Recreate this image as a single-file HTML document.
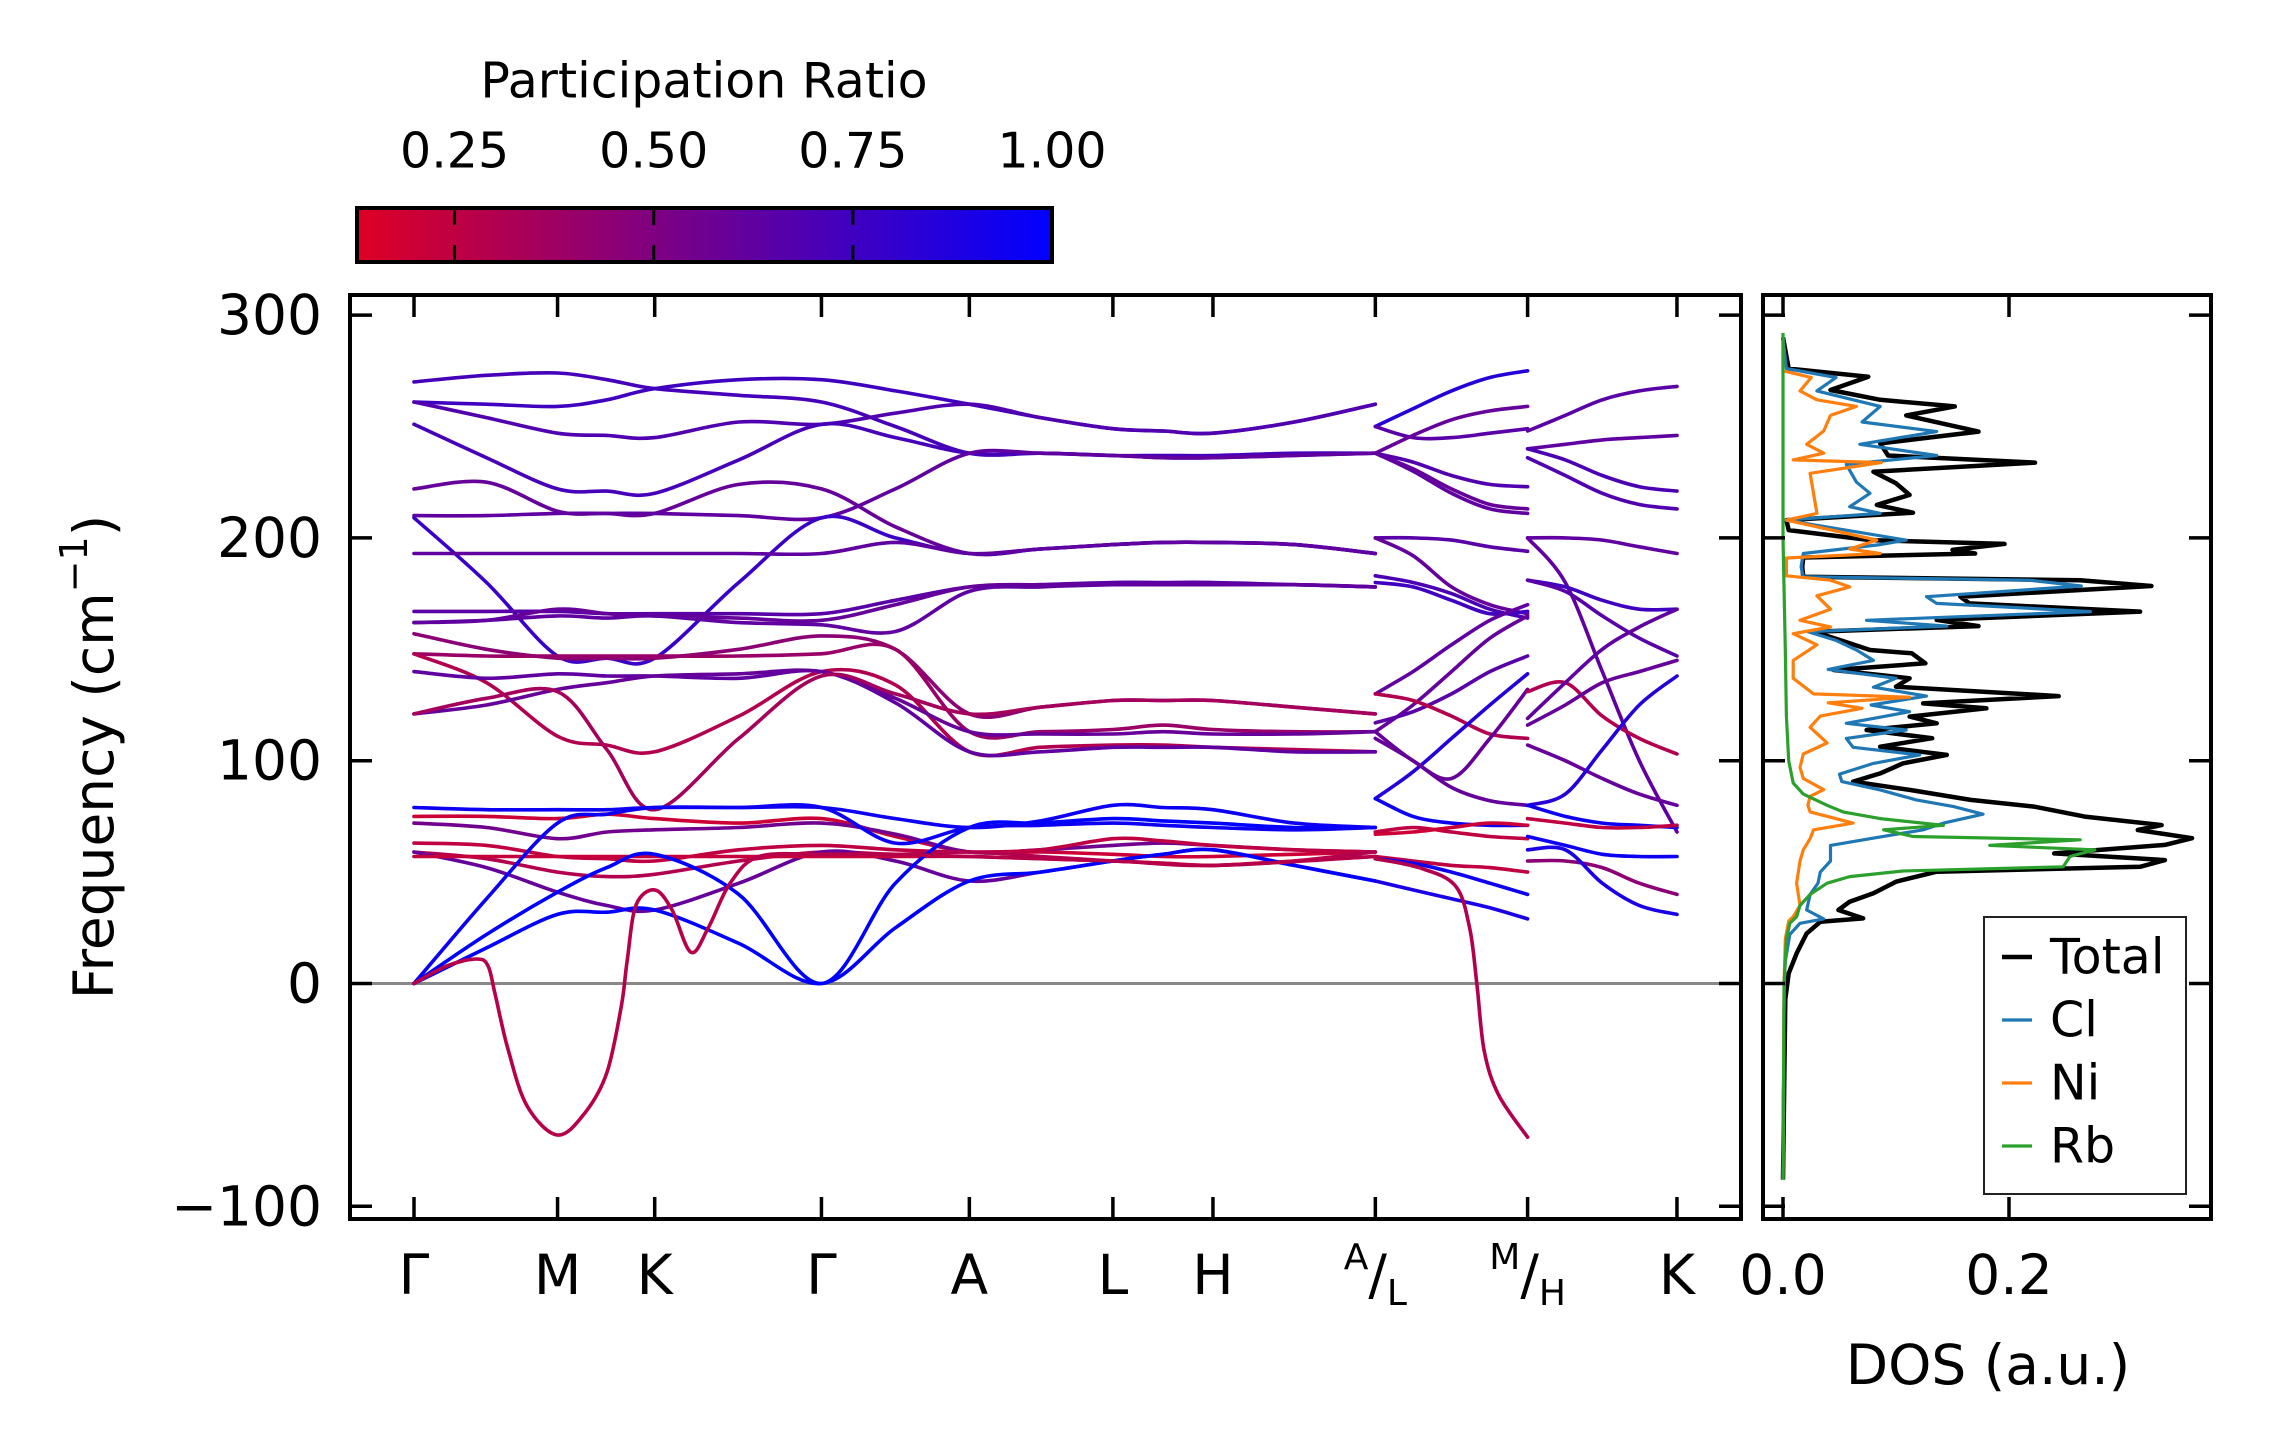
<!DOCTYPE html>
<html><head><meta charset="utf-8"><style>
html,body{margin:0;padding:0;background:#fff;}
svg{display:block;font-family:"DejaVu Sans","Liberation Sans",sans-serif;}
</style></head><body>
<svg id="chart" width="2271" height="1455" viewBox="0 0 2271 1455" xmlns="http://www.w3.org/2000/svg">
<defs>
<linearGradient id="prgrad" x1="0" x2="1" y1="0" y2="0">
<stop offset="0" stop-color="rgb(222,0,36)"/><stop offset="1" stop-color="rgb(0,0,255)"/>
</linearGradient>
<clipPath id="bandclip"><rect x="350" y="295" width="1391" height="924"/></clipPath>
<clipPath id="dosclip"><rect x="1763" y="295" width="448" height="924"/></clipPath>
</defs>
<g id="colorbar">
<text x="704" y="81" font-size="49" text-anchor="middle" dominant-baseline="central">Participation Ratio</text>
<rect x="357" y="208" width="695" height="54" fill="url(#prgrad)" stroke="#000" stroke-width="4"/>
<g id="cbticks"></g>
</g>
<g id="bandaxes">
<line x1="350" x2="1741" y1="983.5" y2="983.5" stroke="#888" stroke-width="3"/>
<g id="bands" clip-path="url(#bandclip)"></g>
<rect x="350" y="295" width="1391" height="924" fill="none" stroke="#000" stroke-width="4"/>
<g id="bandticks"></g>
<text transform="translate(94,757) rotate(-90)" font-size="55" text-anchor="middle" dominant-baseline="central">Frequency (cm<tspan font-size="38" dy="-20">−1</tspan><tspan dy="20">)</tspan></text>
</g>
<g id="dosaxes">
<g id="dos" clip-path="url(#dosclip)"></g>
<rect x="1763" y="295" width="448" height="924" fill="none" stroke="#000" stroke-width="4"/>
<g id="dosticks"></g>
<text x="1988" y="1365" font-size="55" text-anchor="middle" dominant-baseline="central">DOS (a.u.)</text>
<g id="legend">
<rect x="1984" y="917" width="202" height="277" fill="#fff" stroke="#222" stroke-width="2"/>
</g>
</g>
</svg>
<script>
// ---- colorbar data ----
const cbTicks=[0.25,0.50,0.75,1.00];
const cbTickLabels=["0.25","0.50","0.75","1.00"];
const prMin=0.1275, prMax=1.0;
// ---- band path data ----
const kTicks=[0,0.99,1.66,2.81,3.83,4.82,5.51,6.63,7.68,8.71];
const kLabels=["Γ","M","K","Γ","A","L","H","A/L","M/H","K"];
const freqTicks=[300,200,100,0,-100];
const freqTickLabels=["300","200","100","0","−100"];
const nodes1=[0,0.5,0.99,1.33,1.66,2.24,2.81,3.32,3.83,4.32,4.82,5.165,5.51,6.07,6.63];
const bands1=[
[270,273,274,271,267,264,261,250,238,238,237,237,237,238,238],
[261,260,259,262,267,271,271,266,260,254,249,248,247,252,260],
[261,254,247,246,245,252,251,256,260,254,249,248,247,252,260],
[251,236,222,221,220,235,251,245,238,238,237,236,236,237,238],
[222,225,212,211,211,224,222,205,193,195,197,198,198,197,193],
[210,210,211,211,211,210,209,222,238,238,237,236,236,237,238],
[209,180,147,146,146,180,209,200,193,195,197,198,198,197,193],
[193,193,193,193,193,193,193,198,193,195,197,198,198,197,193],
[167,167,167,166,166,166,166,172,178,179,180,180,180,179,178],
[162,163,168,166,165,164,163,170,178,179,179,179,179,179,178],
[162,163,165,164,165,162,161,158,176,178,179,179,179,179,178],
[157,150,146,146,146,150,156,150,121,124,127,127,127,124,121],
[148,147,147,147,147,147,148,150,113,113,114,116,114,113,113],
[148,135,111,107,104,120,140,134,104,106,107,107,106,105,104],
[140,137,139,138,138,137,140,126,104,104,106,106,106,104,104],
[121,125,132,135,138,139,140,128,113,112,112,113,112,112,113],
[121,128,131,105,78,110,138,130,121,124,127,127,127,124,121],
[79,78,78,78,79,79,79,74,70,73,80,79,78,72,70],
[75,75,74,76,74,72,74,66,59,59,58,57,57,58,59],
[72,70,65,68,69,70,72,67,59,60,62,63,62,60,59],
[63,62,57,56,55,60,62,60,59,60,65,64,62,60,59],
[59,56,50,48,49,55,59,58,59,57,55,54,53,55,59],
[59,52,41,35,33,45,59,55,46,50,55,58,60,53,46],
[57,57,57,57,57,57,57,57,57,56,55,54,53,55,57],
[0,16,31,32,33,18,0,25,46,50,55,58,60,53,46],
[0,22,41,52,58,40,0,45,70,72,74,73,72,70,70],
[0,38,72,76,79,79,79,63,70,71,72,71,70,69,70]
];
const pr1=[0.72,0.75,0.68,0.72,0.6,0.62,0.78,0.62,0.65,0.6,0.62,0.45,0.4,0.3,0.62,0.6,0.35,0.95,0.2,0.55,0.25,0.3,0.6,0.22,1.0,1.0,0.95];
const negK1=[0,0.23,0.43,0.51,0.56,0.65,0.78,0.99,1.18,1.33,1.43,1.47,1.53,1.66,1.78,1.91,2.03,2.18,2.38,2.81,3.32,3.83,4.82,5.51,6.63];
const negF1=[0,8,11,8,-5,-30,-55,-68,-58,-40,-10,10,35,42,33,14,25,45,57,58,58,57,55,53,57];
const nodes2=[6.63,6.89,7.155,7.42,7.68];
const bands2=[
[250,258,266,272,275],[250,245,245,247,249],[238,246,253,257,259],[238,234,228,224,223],
[238,231,222,215,213],[238,230,220,213,211],[200,200,199,196,194],[200,192,178,170,166],
[183,180,175,168,164],[180,178,172,166,167],[130,140,152,163,170],[113,125,140,155,165],
[117,122,130,140,147],[130,127,120,112,110],[83,95,110,125,139],[113,100,92,110,132],
[110,100,88,82,80],[83,75,72,71,71],[68,70,68,66,65],[67,68,70,72,71],[57,55,53,52,50],
[56,54,50,45,40],[46,42,38,34,29]
];
const pr2=[0.85,0.65,0.6,0.68,0.6,0.62,0.65,0.6,0.7,0.75,0.62,0.6,0.65,0.3,0.85,0.6,0.6,0.95,0.25,0.2,0.25,0.95,0.9];
const negK2=[6.63,6.93,7.18,7.28,7.33,7.38,7.48,7.68];
const negF2=[56,52,44,25,0,-30,-50,-69];
const nodes3=[7.68,7.94,8.195,8.45,8.71];
const bands3=[
[248,255,262,266,268],[240,242,244,245,246],[240,235,228,223,221],[236,228,220,215,213],
[200,200,199,196,193],[200,180,140,100,68],[181,178,172,168,168],[181,176,165,155,147],
[131,135,120,110,103],[119,135,150,160,168],[116,125,135,140,145],[107,100,92,85,80],
[80,85,105,125,138],[80,75,72,71,70],[74,72,70,70,71],[66,62,58,57,57],[55,55,52,45,40],[60,60,45,35,31]
];
const pr3=[0.65,0.62,0.7,0.68,0.62,0.62,0.75,0.65,0.3,0.62,0.6,0.6,0.85,0.95,0.25,0.95,0.45,0.9];
// ---- DOS data ----
const dosTicks=[0.0,0.2];
const dosTickLabels=["0.0","0.2"];
const totF=[290,276,272.3,266.4,262,259,255,247.7,242.4,237,233.8,229.7,224.5,219.3,214.8,211.3,208,203.5,199,197.3,194.6,193,191.2,187,182.6,181,178.4,173.6,170.6,166.9,163.2,160.4,157.9,154.2,149.7,148.2,143.7,140.7,137,133.2,129,125.7,123.5,119.8,116.8,113.8,110.1,106.3,102.6,98.8,94.3,90.6,86.9,82.4,79.4,74.9,71.1,68.9,65.2,62.2,58.4,55.4,52.4,50.2,45.7,40.5,36.7,33,29.2,27.7,22.5,13.5,4.6,-7,-88];
const totV=[0,0.005,0.0755,0.042,0.086,0.152,0.109,0.173,0.086,0.093,0.223,0.08,0.1,0.112,0.083,0.115,0.003,0.005,0.077,0.196,0.15,0.17,0.018,0.017,0.018,0.263,0.326,0.157,0.165,0.316,0.136,0.173,0.027,0.05,0.077,0.114,0.126,0.045,0.112,0.1,0.244,0.124,0.18,0.112,0.136,0.074,0.132,0.086,0.145,0.106,0.086,0.062,0.112,0.166,0.222,0.267,0.335,0.314,0.362,0.338,0.24,0.338,0.316,0.136,0.1,0.08,0.059,0.049,0.071,0.033,0.021,0.012,0.005,0.002,0];
const clF=[290,276,272,266,259,252,247.7,242,237,233,225,220,214,211,208,199,197,193,187,182.6,181,178.4,173.6,170.6,166.9,163,160.4,157.9,154,149.7,145,141,137,133,129,125,122,119,116.8,113.8,110,106,102.6,98.8,94,90.6,86.9,82.4,79.4,76,72,69,65,62,55,50,45,40,33,29,27,22,10,0,-88];
const clV=[0,0.003,0.047,0.03,0.086,0.07,0.136,0.068,0.136,0.056,0.065,0.077,0.059,0.086,0.002,0.109,0.086,0.018,0.016,0.018,0.218,0.264,0.127,0.136,0.272,0.074,0.145,0.022,0.047,0.065,0.08,0.04,0.1,0.08,0.127,0.078,0.112,0.08,0.056,0.109,0.056,0.062,0.121,0.08,0.05,0.052,0.086,0.118,0.151,0.177,0.142,0.124,0.077,0.042,0.042,0.033,0.031,0.024,0.021,0.036,0.015,0.006,0.002,0.001,0];
const niF=[290,275,272,266,262,259,255,248,242,238,235,233.8,229,220,211,208,199,195,193,191,183,181,178,174,168,163,160,157,152,145,137,130,128.5,126,123.5,120,115,108,103,97,92,87,84,80,77,72,69,65,60,55,45,35,30,28,20,0,-88];
const niV=[0,0,0.025,0.015,0.03,0.065,0.042,0.036,0.021,0.036,0.009,0.087,0.024,0.027,0.03,0.003,0.083,0.059,0.086,0.003,0.003,0.042,0.059,0.03,0.042,0.015,0.042,0.009,0.03,0.009,0.009,0.027,0.112,0.04,0.07,0.033,0.024,0.039,0.018,0.015,0.018,0.036,0.024,0.022,0.024,0.062,0.027,0.024,0.018,0.015,0.012,0.015,0.009,0.005,0.002,0.001,0];
const rbF=[292,200,150,120,100,90,85,80,77,74,71,69,66,64.5,62,60,57,52.4,50.5,48,45,40,35,30,27,20,0,-88];
const rbV=[0,0,0.002,0.003,0.005,0.009,0.018,0.039,0.053,0.086,0.142,0.089,0.115,0.263,0.183,0.276,0.254,0.248,0.106,0.059,0.039,0.024,0.015,0.012,0.006,0.003,0.001,0];
const dosSeries=[["Total","#000000",totF,totV,4.5],["Cl","#1f77b4",clF,clV,3.2],["Ni","#ff7f0e",niF,niV,3.2],["Rb","#2ca02c",rbF,rbV,3.2]];

// ---- scales ----
const NS="http://www.w3.org/2000/svg";
function xk(k){return 414+k*145;}
function fy(f){return 983.5-2.228*f;}
function xd(v){return 1783+v*1130;}
function xcb(p){return 357+(p-prMin)/(prMax-prMin)*695;}
function prColor(p){let t=(p-prMin)/(prMax-prMin);t=Math.max(0,Math.min(1,t));
return "rgb("+Math.round(222*(1-t))+",0,"+Math.round(36+219*t)+")";}
function mk(tag,attrs,parent){const e=document.createElementNS(NS,tag);for(const a in attrs)e.setAttribute(a,attrs[a]);parent.appendChild(e);return e;}
function smooth(pts){let d="M"+pts[0][0].toFixed(1)+","+pts[0][1].toFixed(1);
for(let i=0;i<pts.length-1;i++){const p0=pts[Math.max(0,i-1)],p1=pts[i],p2=pts[i+1],p3=pts[Math.min(pts.length-1,i+2)];
const c1x=p1[0]+(p2[0]-p0[0])/6,c1y=p1[1]+(p2[1]-p0[1])/6,c2x=p2[0]-(p3[0]-p1[0])/6,c2y=p2[1]-(p3[1]-p1[1])/6;
d+=" C"+c1x.toFixed(1)+","+c1y.toFixed(1)+" "+c2x.toFixed(1)+","+c2y.toFixed(1)+" "+p2[0].toFixed(1)+","+p2[1].toFixed(1);}
return d;}

// colorbar ticks
const cbg=document.getElementById("cbticks");
cbTicks.forEach((t,i)=>{const x=xcb(t);
if(t<prMax){const a=mk("line",{x1:x,x2:x,y1:208,y2:225,stroke:"#000","stroke-width":3},cbg);


const b=mk("line",{x1:x,x2:x,y1:245,y2:262,stroke:"#000","stroke-width":3},cbg);

}
const tx=mk("text",{x:x,y:151,"font-size":49,"text-anchor":"middle","dominant-baseline":"central"},cbg);
tx.textContent=cbTickLabels[i];

});

// bands
const bg=document.getElementById("bands");
function drawBand(ks,fs,pr){const pts=ks.map((k,i)=>[xk(k),fy(fs[i])]);
const p=mk("path",{d:smooth(pts),fill:"none",stroke:prColor(pr),"stroke-width":3.6,"stroke-linecap":"round"},bg);

}
bands1.forEach((b,i)=>drawBand(nodes1,b,pr1[i]));
bands2.forEach((b,i)=>drawBand(nodes2,b,pr2[i]));
bands3.forEach((b,i)=>drawBand(nodes3,b,pr3[i]));
drawBand(negK1,negF1,0.28);
drawBand(negK2,negF2,0.3);

// band ticks
const btg=document.getElementById("bandticks");
kTicks.forEach((k,i)=>{const x=xk(k);
const t1=mk("line",{x1:x,x2:x,y1:297,y2:317,stroke:"#000","stroke-width":3.5},btg);


const t2=mk("line",{x1:x,x2:x,y1:1197,y2:1217,stroke:"#000","stroke-width":3.5},btg);


const lab=kLabels[i];
const tx=mk("text",{x:x,y:1275,"font-size":55,"text-anchor":"middle","dominant-baseline":"central"},btg);


if(lab.indexOf("/")>0){const parts=lab.split("/");
const s1=mk("tspan",{"font-size":36,dy:-18},tx);s1.textContent=parts[0];
const s2=mk("tspan",{"font-size":55,dy:18},tx);s2.textContent="/";
const s3=mk("tspan",{"font-size":36,dy:18},tx);s3.textContent=parts[1];}
else tx.textContent=lab;});
freqTicks.forEach((f,i)=>{const y=fy(f);
const a=mk("line",{x1:352,x2:372,y1:y,y2:y,stroke:"#000","stroke-width":3.5},btg);


const b=mk("line",{x1:1719,x2:1739,y1:y,y2:y,stroke:"#000","stroke-width":3.5},btg);


const tx=mk("text",{x:322,y:y,"font-size":55,"text-anchor":"end","dominant-baseline":"central"},btg);
tx.textContent=freqTickLabels[i];

});

// DOS (drawn Total, Cl, Ni, Rb so Rb sits on top)
const dg=document.getElementById("dos");
dosSeries.forEach(s=>{const pts=s[2].map((f,i)=>xd(s[3][i]).toFixed(1)+","+fy(f).toFixed(1)).join(" ");
const pl=mk("polyline",{points:pts,fill:"none",stroke:s[1],"stroke-width":s[4],"stroke-linejoin":"round"},dg);

});
const dtg=document.getElementById("dosticks");
dosTicks.forEach((v,i)=>{const x=xd(v);
const a=mk("line",{x1:x,x2:x,y1:297,y2:317,stroke:"#000","stroke-width":3.5},dtg);


const b=mk("line",{x1:x,x2:x,y1:1197,y2:1217,stroke:"#000","stroke-width":3.5},dtg);


const tx=mk("text",{x:x,y:1275,"font-size":55,"text-anchor":"middle","dominant-baseline":"central"},dtg);
tx.textContent=dosTickLabels[i];

});
freqTicks.forEach(f=>{const y=fy(f);
const a=mk("line",{x1:1765,x2:1785,y1:y,y2:y,stroke:"#000","stroke-width":3.5},dtg);


const b=mk("line",{x1:2189,x2:2209,y1:y,y2:y,stroke:"#000","stroke-width":3.5},dtg);

});
// legend
const lg=document.getElementById("legend");
const legY=[957,1020,1083,1146];
dosSeries.forEach((s,i)=>{
const l=mk("line",{x1:2002,x2:2032,y1:legY[i],y2:legY[i],stroke:s[1],"stroke-width":s[4]},lg);


const t=mk("text",{x:2050,y:legY[i],"font-size":49,"dominant-baseline":"central"},lg);
t.textContent=s[0];

});
</script>
</body></html>
